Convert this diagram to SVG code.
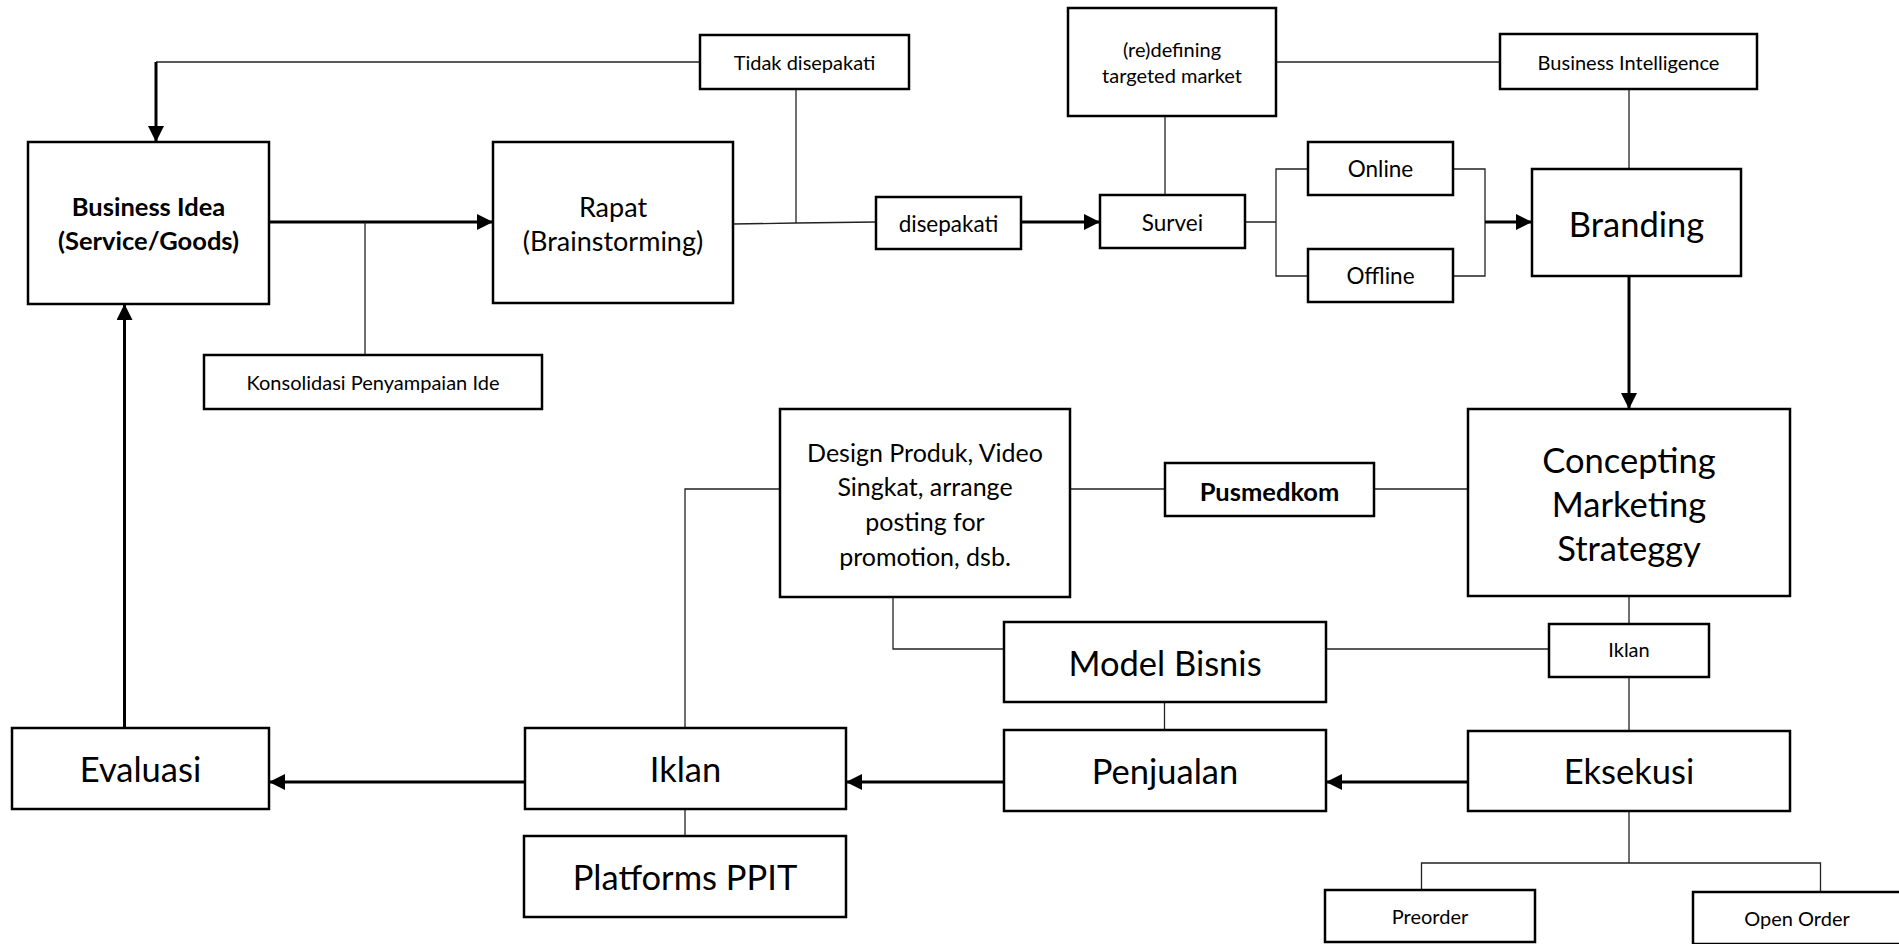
<svg xmlns="http://www.w3.org/2000/svg" width="1899" height="944" viewBox="0 0 1899 944">
<defs>
<style>
rect.b{fill:#fff;stroke:#000;stroke-width:2.5}
text{font-family:Lato,"Liberation Sans",sans-serif;fill:#000;text-anchor:middle;dominant-baseline:central}
.s{font-size:20px}
.m{font-size:22.5px}
.d{font-size:25px}
.r{font-size:27px}
.bd{font-size:25.5px;font-weight:bold}
.L{font-size:34.5px}
.thin{fill:none;stroke:#222;stroke-width:1.3}
.thick{fill:none;stroke:#000;stroke-width:3}
</style>
<marker id="ah" markerUnits="userSpaceOnUse" markerWidth="16" markerHeight="16" refX="16" refY="8" orient="auto">
<path d="M0,0 L16,8 L0,16 Z" fill="#000"/>
</marker>
</defs>
<rect width="1899" height="944" fill="#fff"/>
<g id="connectors">
<path class="thin" d="M700,62 H156"/>
<path class="thick" d="M156,62 V142" stroke-width="2.5" marker-end="url(#ah)"/>
<path class="thick" d="M269,222 H493" marker-end="url(#ah)"/>
<path class="thin" d="M365,222 V355"/>
<path class="thin" d="M733,224 L796,223 L876,222"/>
<path class="thin" d="M796,89 V223"/>
<path class="thick" d="M1021,222 H1100" marker-end="url(#ah)"/>
<path class="thin" d="M1165,116 V195"/>
<path class="thin" d="M1276,62 H1500"/>
<path class="thin" d="M1629,89 V169"/>
<path class="thin" d="M1245,222 H1276 M1308,169 H1276 V276 H1308 M1453,169 H1485 V276 H1453"/>
<path class="thick" d="M1485,222 H1532" marker-end="url(#ah)"/>
<path class="thick" d="M1629,276 V409" stroke-width="2.5" marker-end="url(#ah)"/>
<path class="thin" d="M1070,489 H1165 M1374,489 H1468"/>
<path class="thin" d="M780,489 H685 V728"/>
<path class="thin" d="M893,597 V649 H1004"/>
<path class="thin" d="M1326,649 H1549"/>
<path class="thin" d="M1629,596 V624 M1629,677 V731"/>
<path class="thin" d="M1164.5,702 V730"/>
<path class="thick" d="M1468,782 H1326" marker-end="url(#ah)"/>
<path class="thick" d="M1004,782 H846" marker-end="url(#ah)"/>
<path class="thick" d="M525,782 H269" marker-end="url(#ah)"/>
<path class="thick" d="M124.5,728 V304" marker-end="url(#ah)"/>
<path class="thin" d="M685,809 V836"/>
<path class="thin" d="M1629,811 V863 M1421.5,890 V863 H1820.5 V892"/>
</g>
<g id="n-business-idea"><rect class="b" x="28" y="142" width="241" height="162"/><text class="bd" x="148.5" y="206">Business Idea</text><text class="bd" x="148.5" y="240">(Service/Goods)</text></g>
<g id="n-rapat"><rect class="b" x="493" y="142" width="240" height="161"/><text class="r" x="613" y="206">Rapat</text><text class="r" x="613" y="240">(Brainstorming)</text></g>
<g id="n-tidak"><rect class="b" x="700" y="35" width="209" height="54"/><text class="s" x="804.5" y="62">Tidak disepakati</text></g>
<g id="n-konsolidasi"><rect class="b" x="204" y="355" width="338" height="54"/><text class="s" x="373" y="382">Konsolidasi Penyampaian Ide</text></g>
<g id="n-disepakati"><rect class="b" x="876" y="197" width="145" height="52"/><text class="m" x="948.5" y="223">disepakati</text></g>
<g id="n-survei"><rect class="b" x="1100" y="195" width="145" height="53"/><text class="m" x="1172.5" y="222">Survei</text></g>
<g id="n-redefining"><rect class="b" x="1068" y="8" width="208" height="108"/><text class="s" x="1172" y="48.5">(re)defining</text><text class="s" x="1172" y="75">targeted market</text></g>
<g id="n-bi"><rect class="b" x="1500" y="34" width="257" height="55"/><text class="s" x="1628.5" y="62">Business Intelligence</text></g>
<g id="n-online"><rect class="b" x="1308" y="142" width="145" height="53"/><text class="m" x="1380.5" y="168">Online</text></g>
<g id="n-offline"><rect class="b" x="1308" y="249" width="145" height="53"/><text class="m" x="1380.5" y="275">Offline</text></g>
<g id="n-branding"><rect class="b" x="1532" y="169" width="209" height="107"/><text class="L" x="1636.5" y="223">Branding</text></g>
<g id="n-concepting"><rect class="b" x="1468" y="409" width="322" height="187"/><text class="L" x="1629" y="459">Concepting</text><text class="L" x="1629" y="503">Marketing</text><text class="L" x="1629" y="547">Strateggy</text></g>
<g id="n-pusmedkom"><rect class="b" x="1165" y="463" width="209" height="53"/><text class="bd" x="1269.5" y="491">Pusmedkom</text></g>
<g id="n-design"><rect class="b" x="780" y="409" width="290" height="188"/><text class="d" x="925" y="452">Design Produk, Video</text><text class="d" x="925" y="486">Singkat, arrange</text><text class="d" x="925" y="521">posting for</text><text class="d" x="925" y="556">promotion, dsb.</text></g>
<g id="n-model-bisnis"><rect class="b" x="1004" y="622" width="322" height="80"/><text class="L" x="1165" y="662">Model Bisnis</text></g>
<g id="n-iklan-small"><rect class="b" x="1549" y="624" width="160" height="53"/><text class="s" x="1629" y="649">Iklan</text></g>
<g id="n-penjualan"><rect class="b" x="1004" y="730" width="322" height="81"/><text class="L" x="1165" y="770">Penjualan</text></g>
<g id="n-eksekusi"><rect class="b" x="1468" y="731" width="322" height="80"/><text class="L" x="1629" y="770">Eksekusi</text></g>
<g id="n-iklan"><rect class="b" x="525" y="728" width="321" height="81"/><text class="L" x="685.5" y="768">Iklan</text></g>
<g id="n-platforms"><rect class="b" x="524" y="836" width="322" height="81"/><text class="L" x="685" y="876">Platforms PPIT</text></g>
<g id="n-evaluasi"><rect class="b" x="12" y="728" width="257" height="81"/><text class="L" x="140.5" y="768">Evaluasi</text></g>
<g id="n-preorder"><rect class="b" x="1325" y="890" width="210" height="52"/><text class="s" x="1430" y="916">Preorder</text></g>
<g id="n-open-order"><rect class="b" x="1693" y="892" width="230" height="52"/><text class="s" x="1797" y="918">Open Order</text></g>
</svg>
